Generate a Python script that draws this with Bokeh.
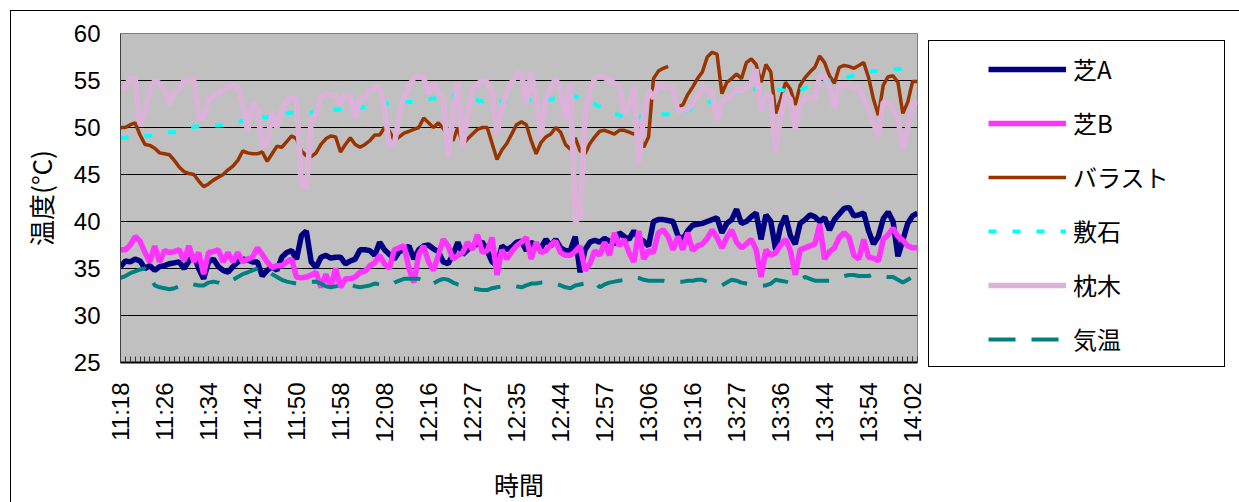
import math
from bokeh.plotting import figure
from bokeh.models import Range1d, FixedTicker, Legend, LegendItem
from bokeh.embed import file_html
from bokeh.resources import INLINE

# ---- data -------------------------------------------------------------
tick_labels = ["11:18", "11:26", "11:34", "11:42", "11:50", "11:58", "12:08",
               "12:16", "12:27", "12:35", "12:44", "12:57", "13:06", "13:16",
               "13:27", "13:36", "13:44", "13:54", "14:02"]
label_step = 9
n_points = 164

series_names = ["芝A", "芝B", "バラスト", "敷石", "枕木", "気温"]

shiba_a = [
    35.2, 35.8, 35.7, 36.0, 35.8, 35.0, 35.3, 34.8, 35.2, 35.3,
    35.5, 35.6, 35.7, 35.0, 35.8, 36.4, 35.0, 33.9, 35.7, 36.0,
    35.2, 34.8, 34.6, 35.2, 35.7, 36.0, 35.9, 35.7, 35.7, 34.2,
    34.8, 35.2, 34.8, 36.2, 36.7, 36.9, 36.0, 38.5, 39.0, 35.7,
    35.1, 36.2, 36.4, 36.1, 36.2, 36.2, 35.5, 35.8, 36.0, 37.0,
    37.0, 36.9, 36.4, 37.8, 37.0, 36.5, 36.0, 36.8, 37.0, 37.4,
    36.0, 37.0, 37.4, 37.5, 37.1, 36.8, 35.7, 35.5, 36.5, 37.8,
    36.5, 37.0, 37.4, 37.6, 37.8, 36.9, 35.7, 35.3, 37.4, 37.0,
    37.3, 37.8, 37.9, 36.9, 37.8, 37.4, 37.2, 38.1, 37.4, 38.1,
    37.2, 36.9, 36.9, 38.4, 34.6, 37.0, 37.8, 38.0, 37.8, 38.2,
    37.9, 37.6, 38.8, 38.4, 38.1, 39.0, 38.2, 37.9, 37.4, 40.0,
    40.2, 40.2, 40.1, 40.0, 38.5, 38.1, 39.0, 39.6, 39.7, 39.8,
    40.0, 40.2, 40.4, 38.8, 39.8, 40.2, 41.3, 39.8, 40.0, 40.5,
    40.9, 38.1, 40.7, 40.0, 37.0, 39.5, 40.6, 38.5, 37.6, 39.8,
    40.2, 40.7, 40.5, 40.0, 40.4, 39.1, 40.2, 40.8, 41.4, 41.5,
    40.6, 40.7, 40.9, 39.0, 37.6, 38.4, 40.3, 41.0, 40.0, 36.3,
    38.0, 39.8, 40.6, 40.9]

shiba_b = [
    37.0, 37.0, 37.5, 38.4, 37.9, 36.7, 35.7, 37.4, 35.7, 36.9,
    36.7, 36.8, 37.0, 35.8, 37.4, 35.7, 36.7, 34.4, 36.7, 36.8,
    37.0, 35.7, 36.7, 35.7, 36.7, 35.7, 36.0, 36.2, 37.2, 36.5,
    35.7, 35.1, 35.3, 35.3, 35.7, 36.0, 34.1, 34.0, 34.1, 34.3,
    34.6, 33.0, 34.4, 33.0, 35.0, 33.0, 33.9, 33.9, 34.1, 34.6,
    34.7, 35.3, 35.6, 36.4, 35.5, 35.0, 37.0, 37.2, 37.4, 35.0,
    33.5, 36.5, 37.4, 35.7, 34.8, 36.4, 38.1, 37.4, 36.0, 36.4,
    36.7, 37.8, 37.0, 38.6, 36.7, 36.9, 38.3, 34.3, 37.0, 36.0,
    36.8, 37.4, 37.8, 38.3, 36.0, 37.8, 36.7, 36.9, 37.5, 37.9,
    36.7, 36.4, 36.4, 36.8, 37.4, 34.8, 35.5, 36.9, 36.4, 37.8,
    36.4, 38.8, 37.4, 38.1, 36.7, 35.7, 39.0, 36.0, 36.9, 36.7,
    38.8, 39.1, 38.4, 37.0, 38.4, 37.0, 38.8, 36.9, 37.4, 37.6,
    38.2, 39.1, 38.3, 37.2, 38.3, 39.1, 37.8, 37.2, 37.6, 38.1,
    37.0, 34.1, 37.0, 36.4, 36.7, 37.5, 38.1, 36.9, 34.3, 37.0,
    37.2, 37.4, 37.6, 39.7, 36.0, 36.8, 37.2, 38.3, 38.8, 38.3,
    36.4, 36.0, 38.1, 36.2, 36.1, 35.8, 38.1, 38.6, 39.3, 38.4,
    38.0, 37.4, 37.2, 37.2]

ballast = [
    50.0, 50.0, 50.3, 50.5, 49.2, 48.2, 48.1, 47.8, 47.3, 47.2,
    47.1, 46.5, 45.8, 45.3, 45.1, 45.0, 44.3, 43.7, 44.0, 44.4,
    44.7, 45.0, 45.5, 45.9, 46.5, 47.5, 47.3, 47.2, 47.2, 47.4,
    46.4, 47.2, 48.0, 47.9, 48.5, 49.1, 48.8, 47.5, 47.0, 46.9,
    47.3, 48.2, 48.8, 49.1, 49.0, 47.4, 48.2, 48.9, 48.2, 47.9,
    48.2, 48.6, 49.2, 49.2, 50.0, 49.6, 48.6, 49.0, 49.4, 49.6,
    49.8, 50.0, 51.0, 50.5, 50.0, 50.5, 49.9, 49.2, 48.6, 50.0,
    48.2, 48.8, 49.3, 49.8, 50.0, 50.0, 48.3, 46.6, 47.6, 48.3,
    49.3, 50.3, 50.6, 50.3, 48.6, 47.2, 48.4, 49.0, 49.3, 50.0,
    49.5, 48.2, 47.7, 48.9, 47.5, 47.2, 48.3, 49.0, 49.6, 49.7,
    49.5, 49.3, 49.7, 49.7, 49.5, 49.3, 49.8, 47.9, 49.0, 55.2,
    56.0, 56.3, 56.5, float("nan"), 52.2, 52.4, 53.5, 54.3, 55.2, 55.9,
    57.5, 58.0, 57.8, 53.6, 54.8, 55.2, 55.7, 55.2, 56.9, 57.3,
    56.7, 54.8, 56.7, 55.9, 51.5, 53.0, 54.8, 54.1, 52.4, 54.5,
    55.3, 55.9, 56.4, 57.6, 56.9, 55.5, 54.7, 56.4, 56.6, 56.5,
    56.3, 56.6, 56.9, 55.3, 53.0, 51.3, 54.5, 55.4, 55.5, 54.8,
    51.5, 52.7, 54.9, 54.9]

shikiishi = [
    48.9, 48.9, 49.0, 49.0, 49.1, 49.1, 49.1, 49.2, 49.3, 49.4,
    49.5, 49.5, 49.6, 49.7, 49.9, 50.1, 50.1, 50.2, 50.2, 50.2,
    50.2, 50.3, 50.4, 50.5, 50.6, 50.7, 50.8, 50.9, 51.0, 51.1,
    51.1, 51.2, 51.3, 51.4, 51.5, 51.6, 51.6, 51.6, 51.6, 51.6,
    51.7, 51.7, 51.8, 51.8, 51.9, 51.9, 52.0, 52.0, 52.1, 52.1,
    52.2, 52.3, 52.4, 52.5, 52.5, 52.6, 52.6, 52.7, 52.7, 52.7,
    52.7, 52.8, 52.9, 53.0, 53.1, 53.1, 53.2, 53.3, 53.4, 53.3,
    53.2, 53.1, 53.0, 52.9, 52.8, 52.8, 52.7, 52.7, 52.8, 52.8,
    52.9, 52.9, 52.9, 52.9, 52.9, 52.9, 52.9, 52.9, 53.0, 53.1,
    53.2, 53.3, 53.4, 53.3, 53.1, 53.0, 52.8, 52.5, 52.2, 51.9,
    51.7, 51.5, 51.3, 51.1, 51.0, 51.0, 51.1, 51.2, 51.4, 51.5,
    51.5, 51.4, 51.4, 51.4, 51.4, 51.6, 51.8, 52.0, 52.2, 52.4,
    52.6, 52.8, 53.0, 53.3, 53.4, 53.5, 53.7, 53.8, 54.0, 54.1,
    54.1, 54.1, 54.0, 54.0, 54.0, 54.0, 53.9, 53.9, 53.8, 54.0,
    54.2, 54.4, 54.6, 54.8, 54.9, 55.0, 55.1, 55.2, 55.3, 55.4,
    55.5, 55.6, 55.8, 55.9, 56.0, 56.0, 56.1, 56.1, 56.2, 56.2,
    56.2, 56.2, 56.2, 56.2]

makuragi = [
    54.0, 54.3, 55.3, 55.2, 50.3, 51.5, 54.0, 55.0, 54.7, 54.0,
    52.4, 53.8, 54.1, 55.0, 55.0, 55.0, 51.0, 51.0, 53.1, 53.4,
    53.6, 54.0, 54.3, 54.5, 54.3, 52.7, 49.6, 52.6, 52.0, 48.0,
    48.2, 51.7, 50.0, 51.9, 52.9, 53.1, 53.0, 44.0, 43.5, 50.6,
    51.5, 53.2, 53.6, 53.5, 53.3, 52.6, 53.4, 53.3, 51.0, 53.1,
    53.2, 54.0, 54.2, 54.3, 52.0, 48.0, 48.2, 51.3, 53.3, 54.3,
    55.3, 55.5, 55.3, 53.6, 54.7, 53.8, 53.1, 46.8, 51.3, 54.8,
    48.0, 51.3, 54.1, 54.6, 55.0, 54.8, 53.8, 49.3, 52.0, 53.8,
    54.8, 55.7, 55.8, 52.5, 55.9, 53.1, 49.1, 53.1, 54.3, 55.2,
    54.0, 50.8, 54.7, 40.0, 40.5, 51.3, 54.0, 55.2, 55.5, 55.3,
    55.0, 54.7, 54.5, 51.5, 52.2, 54.3, 46.3, 51.3, 54.0, 53.1,
    54.5, 54.3, 54.3, 54.1, 51.7, 51.9, 51.9, 52.6, 53.3, 54.3,
    54.0, 53.8, 50.8, 52.7, 53.2, 53.3, 54.0, 54.0, 54.2, 54.8,
    56.2, 51.7, 53.4, 53.4, 47.3, 51.3, 53.6, 53.0, 49.9, 52.4,
    53.1, 53.2, 53.0, 55.5, 55.5, 54.3, 52.0, 54.5, 54.5, 54.4,
    54.1, 54.3, 53.1, 52.0, 50.5, 49.1, 52.7, 52.7, 52.0, 51.0,
    47.7, 49.9, 52.6, 52.7]

kion = [
    34.0, 34.2, 34.5, 34.7, 34.9, 35.0, 34.2, 33.2, 33.0, 32.9,
    32.8, 32.9, 33.1, 33.3, 33.4, 33.3, 33.2, 33.2, 33.5, 33.6,
    33.5, 33.3, 33.4, 33.8, 34.1, 34.4, 34.6, 34.8, 35.0, 35.2,
    34.8, 34.4, 34.1, 33.8, 33.6, 33.5, 33.4, 33.4, 33.5, 33.6,
    33.6, 33.4, 33.1, 33.0, 33.1, 33.3, 33.4, 33.3, 33.1, 33.0,
    33.1, 33.2, 33.4, 33.3, 33.2, 33.2, 33.5, 33.7, 33.9, 33.9,
    33.9, 33.9, 33.7, 33.2, 33.4, 33.7, 33.9, 33.8, 33.5, 33.3,
    33.2, 33.0, 32.9, 32.8, 32.7, 32.7, 32.9, 33.0, 33.1, 33.2,
    33.2, 33.1, 33.0, 33.2, 33.4, 33.4, 33.5, 33.5, 33.5, 33.4,
    33.2, 33.0, 32.9, 33.2, 33.3, 33.4, 33.5, 33.6, 33.0, 33.3,
    33.5, 33.6, 33.7, 33.8, 34.0, 34.1, 34.0, 33.8, 33.7, 33.7,
    33.7, 33.7, 33.6, 33.6, 33.6, 33.6, 33.7, 33.7, 33.8, 33.8,
    33.6, 33.4, 33.2, 33.2, 33.5, 33.8, 33.7, 33.5, 33.4, 33.3,
    33.3, 33.2, 33.2, 33.4, 33.8, 33.7, 33.6, 33.5, 33.6, 33.8,
    34.1, 33.9, 33.7, 33.7, 33.7, 33.7, 33.8, 34.0, 34.2, 34.3,
    34.3, 34.2, 34.2, 34.2, 34.4, 34.3, 34.2, 34.1, 34.1, 33.8,
    33.5, 33.8, 34.1, 34.1]

y_ticks = [25, 30, 35, 40, 45, 50, 55, 60]

# ---- figure -----------------------------------------------------------
JP = "Noto Sans CJK JP"
NUM = "Liberation Sans"

x = list(range(n_points))

p = figure(frame_width=797, frame_height=329,
           min_border_left=109, min_border_right=314,
           min_border_top=22, min_border_bottom=132,
           x_range=Range1d(0, n_points - 1), y_range=Range1d(y_ticks[0], y_ticks[-1]),
           output_backend="svg", toolbar_location=None)
p.styles = {"margin-left": "10px", "margin-top": "10px",
            "border-top": "1px solid black", "border-left": "1px solid black"}
p.background_fill_color = "#C0C0C0"
p.border_fill_color = "white"
p.outline_line_color = "#808080"
p.outline_line_width = 1

# grid
p.xgrid.visible = False
p.ygrid.ticker = FixedTicker(ticks=y_ticks)
p.ygrid.grid_line_color = "black"
p.ygrid.grid_line_width = 1

# y axis
p.yaxis.ticker = FixedTicker(ticks=y_ticks)
p.yaxis.major_label_text_font = NUM
p.yaxis.major_label_text_font_size = "24px"
p.yaxis.major_label_text_color = "black"
p.yaxis.major_tick_in = 0
p.yaxis.major_tick_out = 0
p.yaxis.minor_tick_line_color = None
p.yaxis.major_label_standoff = 20
p.yaxis.axis_line_color = "#404040"
p.yaxis.axis_label = "温度(°C)"
p.yaxis.axis_label_text_font = JP
p.yaxis.axis_label_text_font_size = "26px"
p.yaxis.axis_label_text_font_style = "normal"
p.yaxis.axis_label_text_color = "black"
p.yaxis.axis_label_standoff = 12

# x axis
major_idx = [i * label_step for i in range(len(tick_labels))]
p.xaxis.ticker = FixedTicker(ticks=major_idx, minor_ticks=x)
p.xaxis.major_label_overrides = {k: lab for k, lab in zip(major_idx, tick_labels)}
p.xaxis.major_label_orientation = math.pi / 2
p.xaxis.major_label_text_font = NUM
p.xaxis.major_label_text_font_size = "24px"
p.xaxis.major_label_text_color = "black"
p.xaxis.major_label_standoff = 20
p.xaxis.major_tick_in = 6
p.xaxis.major_tick_out = 0
p.xaxis.minor_tick_in = 6
p.xaxis.minor_tick_out = 0
p.xaxis.major_tick_line_color = "#333333"
p.xaxis.minor_tick_line_color = "#333333"
p.xaxis.axis_line_color = "black"
p.xaxis.axis_line_width = 2
p.xaxis.axis_label = "時間"
p.xaxis.axis_label_text_font = JP
p.xaxis.axis_label_text_font_size = "25px"
p.xaxis.axis_label_text_font_style = "normal"
p.xaxis.axis_label_text_color = "black"
p.xaxis.axis_label_standoff = 20

# series
r_a = p.line(x, shiba_a, line_color="#000080", line_width=5.5)
r_b = p.line(x, shiba_b, line_color="#FF33FF", line_width=5.5)
r_bal = p.line(x, ballast, line_color="#993300", line_width=3.5)
r_shi = p.line(x, shikiishi, line_color="#00FFFF", line_width=4, line_dash="8 16")
r_mak = p.line(x, makuragi, line_color="#DDB2DA", line_width=5.5)
r_kio = p.line(x, kion, line_color="#008080", line_width=4, line_dash="27 16")

renderers = [r_a, r_b, r_bal, r_shi, r_mak, r_kio]
legend = Legend(items=[LegendItem(label=n, renderers=[r]) for n, r in zip(series_names, renderers)],
                location=(11, -5), orientation="vertical",
                title=" ", title_location="left", title_text_font_size="10px",
                title_standoff=38,
                glyph_width=78, glyph_height=34, label_height=34, label_width=141,
                spacing=19, label_standoff=7, padding=10, margin=0,
                border_line_color="black", border_line_width=1, border_line_alpha=1,
                background_fill_color="white", background_fill_alpha=1,
                label_text_font=JP, label_text_font_size="24px", label_text_color="black")
p.add_layout(legend, "right")

open("out.html", "w").write(file_html(p, INLINE))
